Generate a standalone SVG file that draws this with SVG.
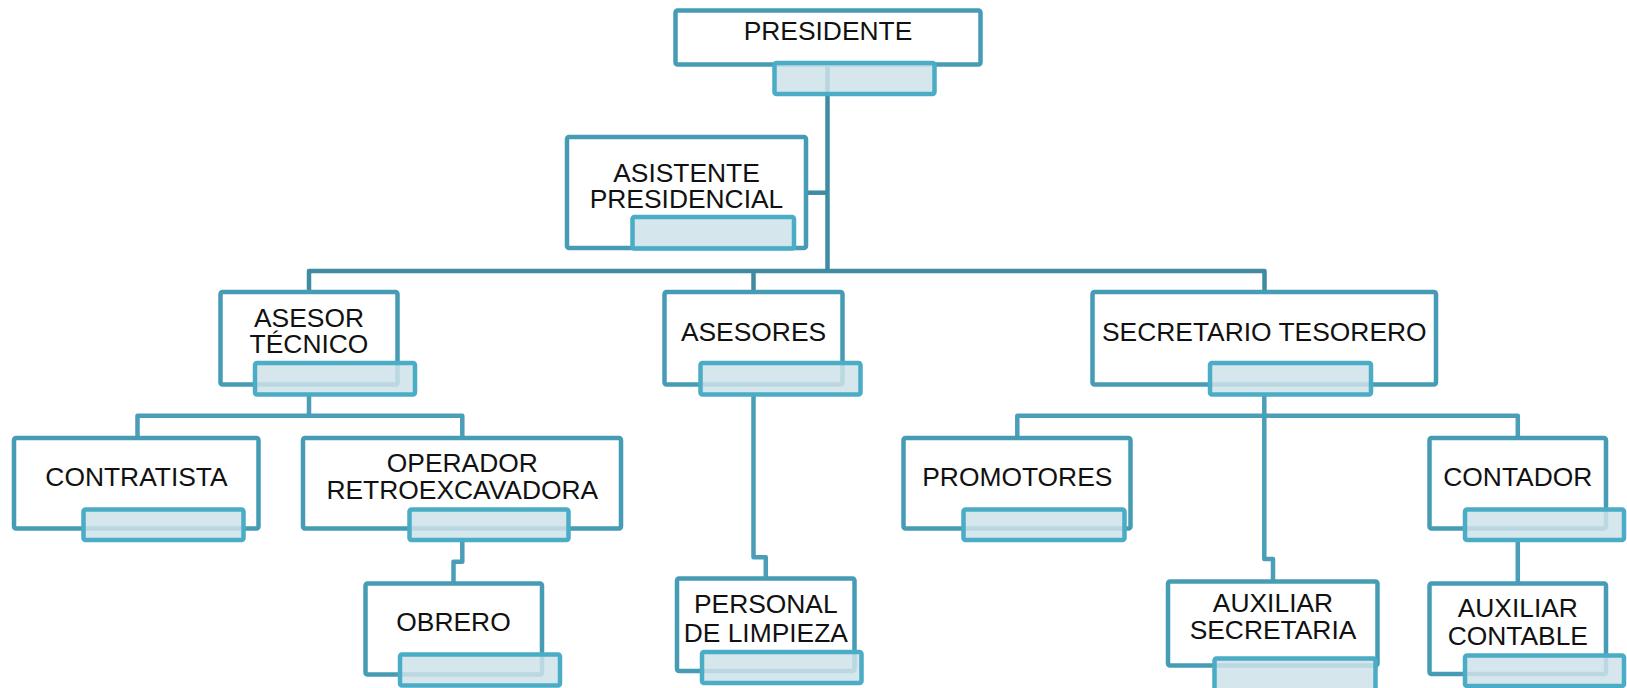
<svg xmlns="http://www.w3.org/2000/svg" width="1627" height="688" viewBox="0 0 1627 688">
<style>
.box{fill:#ffffff;stroke:#479cb5;stroke-width:4.5}
.tab{fill:#cfe2ea;fill-opacity:0.85;stroke:#4bacc6;stroke-width:4.5}
.lbl{font-family:"Liberation Sans",Arial,sans-serif;font-size:26.4px;fill:#111111;text-anchor:middle}
.c1{fill:none;stroke:#3f8ba1;stroke-width:4.5;stroke-linejoin:round}
.c2{fill:none;stroke:#4a9eb7;stroke-width:4.5;stroke-linejoin:round}
</style>
<rect width="1627" height="688" fill="#ffffff"/>
<g id="connectors">
<path class="c1" d="M827.5 64.7 V271"/>
<path class="c1" d="M806 192.7 H827.5"/>
<path class="c1" d="M309 292 V271 H1264.5 V292"/>
<path class="c1" d="M753.5 271 V292"/>
<path class="c2" d="M309 394.7 V415.7"/>
<path class="c2" d="M137.5 436 V415.7 H462.3 V436"/>
<path class="c2" d="M462.3 539.7 V561.7 H453.5 V583.7"/>
<path class="c2" d="M753.5 394.7 V557.3 H765.8 V578.7"/>
<path class="c2" d="M1264.3 394.7 V559 H1273 V581.3"/>
<path class="c2" d="M1017.3 436 V415.7 H1517.8 V436"/>
<path class="c2" d="M1517.8 539.7 V583.7"/>
</g>
<g id="presidente">
<rect class="box" x="675.5" y="10.5" width="305" height="54" rx="2"/>
<rect class="tab" x="774.5" y="63" width="160" height="31" rx="2"/>
<text class="lbl" x="828" y="40">PRESIDENTE</text>
</g>
<g id="asistente">
<rect class="box" x="567" y="137" width="239" height="111" rx="2"/>
<rect class="tab" x="632.5" y="217" width="161.5" height="31.5" rx="2"/>
<text class="lbl" x="686.5" y="181.7">ASISTENTE</text>
<text class="lbl" x="686.5" y="208.3">PRESIDENCIAL</text>
</g>
<g id="asesor-tecnico">
<rect class="box" x="220.5" y="292" width="177" height="92.5" rx="2"/>
<rect class="tab" x="255" y="363" width="160" height="31.5" rx="2"/>
<text class="lbl" x="309" y="326.7">ASESOR</text>
<text class="lbl" x="309" y="353.3">TÉCNICO</text>
</g>
<g id="asesores">
<rect class="box" x="664.5" y="292" width="178" height="92.5" rx="2"/>
<rect class="tab" x="700.5" y="363" width="160" height="31.5" rx="2"/>
<text class="lbl" x="753.5" y="341">ASESORES</text>
</g>
<g id="secretario">
<rect class="box" x="1092.5" y="292" width="343.5" height="92.5" rx="2"/>
<rect class="tab" x="1210" y="363" width="161" height="31.5" rx="2"/>
<text class="lbl" x="1264.3" y="341">SECRETARIO TESORERO</text>
</g>
<g id="contratista">
<rect class="box" x="14" y="438" width="244.5" height="90.5" rx="2"/>
<rect class="tab" x="83.5" y="509.5" width="160" height="30.5" rx="2"/>
<text class="lbl" x="136.5" y="486">CONTRATISTA</text>
</g>
<g id="operador">
<rect class="box" x="303" y="438" width="318" height="90.5" rx="2"/>
<rect class="tab" x="409.5" y="509.5" width="159" height="30.5" rx="2"/>
<text class="lbl" x="462.3" y="471.7">OPERADOR</text>
<text class="lbl" x="462.3" y="499.3">RETROEXCAVADORA</text>
</g>
<g id="promotores">
<rect class="box" x="903.5" y="438" width="227" height="90.5" rx="2"/>
<rect class="tab" x="963.5" y="509.5" width="161" height="30.5" rx="2"/>
<text class="lbl" x="1017.3" y="486">PROMOTORES</text>
</g>
<g id="contador">
<rect class="box" x="1429.5" y="438" width="176.5" height="90.5" rx="2"/>
<rect class="tab" x="1465" y="509.5" width="159" height="30.5" rx="2"/>
<text class="lbl" x="1517.8" y="486">CONTADOR</text>
</g>
<g id="obrero">
<rect class="box" x="365.5" y="583.5" width="176.5" height="91" rx="2"/>
<rect class="tab" x="400" y="654.5" width="160" height="31" rx="2"/>
<text class="lbl" x="453.5" y="630.7">OBRERO</text>
</g>
<g id="personal-limpieza">
<rect class="box" x="677" y="578.5" width="177.5" height="92.5" rx="2"/>
<rect class="tab" x="702" y="652" width="159.5" height="31" rx="2"/>
<text class="lbl" x="765.8" y="613.3">PERSONAL</text>
<text class="lbl" x="765.8" y="641.7">DE LIMPIEZA</text>
</g>
<g id="auxiliar-secretaria">
<rect class="box" x="1168" y="581.5" width="209.5" height="84" rx="2"/>
<rect class="tab" x="1214.5" y="658.5" width="161" height="32" rx="2"/>
<text class="lbl" x="1273" y="611.7">AUXILIAR</text>
<text class="lbl" x="1273" y="639.3">SECRETARIA</text>
</g>
<g id="auxiliar-contable">
<rect class="box" x="1429.5" y="583.5" width="176.5" height="90.5" rx="2"/>
<rect class="tab" x="1465" y="655.5" width="159" height="30.5" rx="2"/>
<text class="lbl" x="1517.8" y="617.3">AUXILIAR</text>
<text class="lbl" x="1517.8" y="645">CONTABLE</text>
</g>
</svg>
